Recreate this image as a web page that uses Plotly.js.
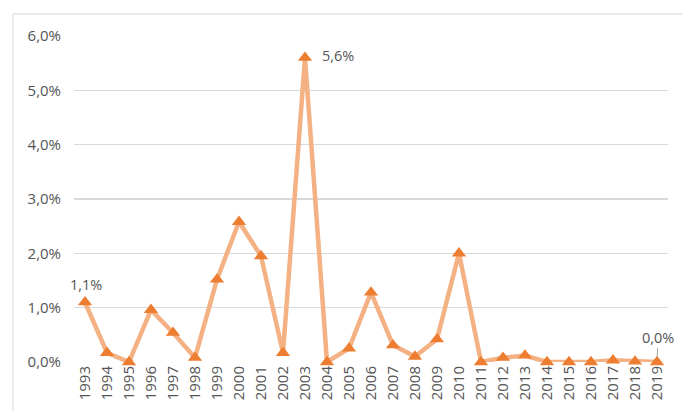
<!DOCTYPE html>
<html>
<head>
<meta charset="utf-8">
<script src="https://cdn.plot.ly/plotly-3.0.1.min.js"></script>
<style>html,body{margin:0;padding:0;background:#fff;}#chart{width:683px;height:411px;}</style>
</head>
<body>
<div id="chart"></div>
<script>
const years = ['1993','1994','1995','1996','1997','1998','1999','2000','2001','2002','2003','2004','2005','2006','2007','2008','2009','2010','2011','2012','2013','2014','2015','2016','2017','2018','2019'];
const values = [1.1,0.17,0.0,0.96,0.54,0.08,1.52,2.58,1.95,0.17,5.6,0.0,0.25,1.28,0.31,0.1,0.42,2.0,0.0,0.08,0.12,0.0,0.0,0.0,0.03,0.01,0.0];
const yTickVals = [0,1,2,3,4,5,6];
const yTickText = ['0,0%','1,0%','2,0%','3,0%','4,0%','5,0%','6,0%'];
const labelled = [{year:'1993', text:'1,1%'},{year:'2003', text:'5,6%'},{year:'2019', text:'0,0%'}];

const textColor = '#555555';
const fam = 'Open Sans, Liberation Sans, sans-serif';
const font = {family:fam, size:14.5, color:textColor};

const trace = {
  x: years, y: values, type:'scatter', mode:'lines+markers',
  line:{color:'#F4B183', width:4.5},
  marker:{symbol:'triangle-up', size:12.5, color:'#ED7D31'},
  cliponaxis:false, hoverinfo:'skip'
};

function idxOf(y){ return years.indexOf(y); }
function valOf(y){ return values[years.indexOf(y)]; }

const annotations = [
  {xref:'x', yref:'y', x:idxOf(labelled[0].year), y:valOf(labelled[0].year), text:labelled[0].text, showarrow:false, yshift:18, xshift:1, font:font},
  {xref:'x', yref:'y', x:idxOf(labelled[1].year), y:valOf(labelled[1].year), text:labelled[1].text, showarrow:false, xshift:33, yshift:2, font:font},
  {xref:'x', yref:'y', x:idxOf(labelled[2].year), y:valOf(labelled[2].year), text:labelled[2].text, showarrow:true, ax:1, ay:-25, arrowhead:0, arrowwidth:1, arrowcolor:'#a6a6a6', standoff:5, font:font}
];

const layout = {
  width:683, height:411,
  margin:{l:74, r:15, t:36, b:49, pad:0},
  paper_bgcolor:'#ffffff', plot_bgcolor:'#ffffff',
  showlegend:false,
  font:font,
  xaxis:{type:'category', range:[-0.5, 26.5], tickangle:-90, showgrid:false, zeroline:false, showline:false, ticks:'', tickfont:{family:fam, size:15, color:textColor}, fixedrange:true},
  yaxis:{range:[0,6], tickvals:yTickVals, ticktext:yTickText, showgrid:true, gridcolor:'#d9d9d9', gridwidth:1.2, zeroline:false, showline:false, ticks:'', ticklabelstandoff:12, tickfont:{family:fam, size:15, color:textColor}, fixedrange:true},
  annotations:annotations,
  shapes:[
    {type:'line', xref:'paper', yref:'paper', x0:-0.1027, x1:-0.1027, y0:1.0675, y1:-0.2, line:{color:'#d9d9d9', width:1}},
    {type:'line', xref:'paper', yref:'paper', x0:-0.1027, x1:1.05, y0:1.0675, y1:1.0675, line:{color:'#d9d9d9', width:1}}
  ]
};

Plotly.newPlot('chart', [trace], layout, {displayModeBar:false, staticPlot:true});
</script>
</body>
</html>
